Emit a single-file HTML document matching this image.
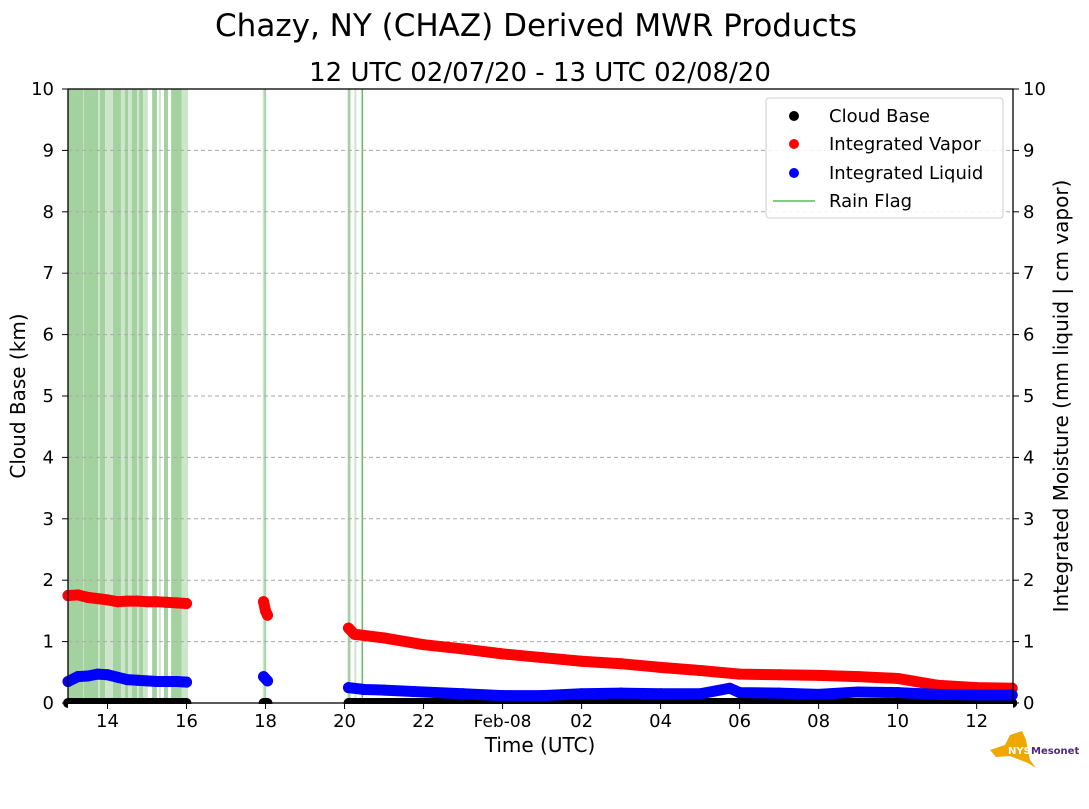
<!DOCTYPE html>
<html><head><meta charset="utf-8"><style>
body{margin:0;background:#fff;font-family:"Liberation Sans","DejaVu Sans",sans-serif}
svg text{font-family:"DejaVu Sans","Liberation Sans",sans-serif}
</style></head><body>
<svg id="chart" width="1089" height="804" xmlns="http://www.w3.org/2000/svg">
<text x="536" y="36" font-size="31" text-anchor="middle">Chazy, NY (CHAZ) Derived MWR Products</text>
<text x="540" y="81" font-size="26" text-anchor="middle">12 UTC 02/07/20 - 13 UTC 02/08/20</text>
<g id="bands"></g>
<g id="grid"></g>
<g id="series"></g>
<rect x="68" y="89" width="945" height="614" fill="none" stroke="#000" stroke-width="1.3"/>
<g id="axes"></g>
<text x="540" y="752" font-size="20" text-anchor="middle">Time (UTC)</text>
<text transform="translate(25,396) rotate(-90)" font-size="20" text-anchor="middle">Cloud Base (km)</text>
<text transform="translate(1068,396) rotate(-90)" font-size="20" text-anchor="middle">Integrated Moisture (mm liquid | cm vapor)</text>
<g>
<rect x="766" y="98" width="237" height="120" rx="3" fill="#fff" fill-opacity="0.85" stroke="#ccc"/>
<circle cx="794" cy="116" r="5" fill="#000"/><text x="829" y="122" font-size="18">Cloud Base</text>
<circle cx="794" cy="144" r="5" fill="red"/><text x="829" y="150" font-size="18">Integrated Vapor</text>
<circle cx="794" cy="173" r="5" fill="blue"/><text x="829" y="179" font-size="18">Integrated Liquid</text>
<line x1="773" y1="201" x2="815" y2="201" stroke="#5cb85c" stroke-width="1.5"/><text x="829" y="207" font-size="18">Rain Flag</text>
</g>
<g>
<path d="M990 750 L1005 745 L1010 735 L1022 731 L1026 740 L1030 760 L1036 768 L1028 763 L1010 756 L996 757 Z" fill="#f0a800"/>
<text x="1008" y="754" font-size="10" font-weight="bold" fill="#fff">NYS</text>
<text x="1031" y="754" font-size="10" font-weight="bold" fill="#4b2a7b">Mesonet</text>
</g>
</svg>
<script>
const rainStart=[13.0,13.38,13.40,13.76,13.81,13.94,14.14,14.34,14.44,14.52,14.62,14.75,14.80,14.90,15.13,15.30,15.43,15.61,15.88,17.93,17.97,20.08,20.25,20.43];
const rainEnd=[13.38,13.40,13.76,13.81,13.94,14.14,14.34,14.44,14.52,14.62,14.75,14.80,14.90,15.02,15.25,15.35,15.53,15.88,16.04,18.02,18.0,20.15,20.3,20.47];
const rainLevel=[2,1,2,1,2,1,2,1,2,1,2,1,2,1,2,1,2,2,1,1,2,2,1,3];
const vapT1=[13,13.25,13.5,13.75,14,14.25,14.5,14.75,15,15.25,15.5,15.75,16];
const vapV1=[1.75,1.76,1.72,1.70,1.68,1.65,1.66,1.66,1.65,1.65,1.64,1.63,1.62];
const vapT2=[17.95,18.0,18.05];
const vapV2=[1.65,1.5,1.43];
const vapT3=[20.1,20.25,21,22,23,24,25,26,27,28,29,30,31,32,33,34,35,36,36.9];
const vapV3=[1.22,1.12,1.06,0.95,0.88,0.80,0.74,0.68,0.64,0.58,0.53,0.47,0.46,0.45,0.43,0.40,0.29,0.25,0.24];
const liqT1=vapT1;
const liqV1=[0.35,0.43,0.44,0.47,0.46,0.42,0.38,0.37,0.36,0.35,0.35,0.35,0.34];
const liqT2=[17.95,18.05];
const liqV2=[0.43,0.36];
const liqT3=[20.1,20.5,21,22,23,24,25,26,27,28,29,29.75,30,31,32,33,34,35,36,36.9];
const liqV3=[0.25,0.22,0.21,0.18,0.15,0.12,0.12,0.15,0.16,0.15,0.15,0.24,0.17,0.16,0.14,0.18,0.17,0.14,0.13,0.13];
const cloudStart=[13,17.95,20.1];
const cloudEnd=[16,18.05,36.9];
const xTickHours=[14,16,18,20,22,24,26,28,30,32,34,36];
const xTickLabels=["14","16","18","20","22","Feb-08","02","04","06","08","10","12"];
const yTicks=[0,1,2,3,4,5,6,7,8,9,10];

const NS="http://www.w3.org/2000/svg";
const X0=68,X1=1013,Y0=703,Y1=89,T0=13,T1=36.92;
const xs=t=>X0+(t-T0)/(T1-T0)*(X1-X0);
const ys=v=>Y0-v/10*(Y0-Y1);
function mk(tag,attrs,parent){const e=document.createElementNS(NS,tag);for(const k in attrs)e.setAttribute(k,attrs[k]);parent.appendChild(e);return e;}
const bands=document.getElementById('bands'),grid=document.getElementById('grid'),ser=document.getElementById('series'),axes=document.getElementById('axes');
const bandCol=["","#cde6cb","#a3d1a0","#6cbb6a"];
rainStart.forEach((s,i)=>{const r=mk('rect',{x:xs(s),y:Y1,width:Math.max(1.5,xs(rainEnd[i])-xs(s)),height:Y0-Y1,fill:bandCol[rainLevel[i]]},bands);

});
yTicks.forEach(v=>{if(v>0&&v<10){const l=mk('line',{x1:X0,x2:X1,y1:ys(v),y2:ys(v),stroke:'#aaa','stroke-dasharray':'4,3'},grid);

}
[[X0,-6,'end',X0-14],[X1,6,'start',X1+10]].forEach(([x,d,a,tx])=>{mk('line',{x1:x,x2:x+d,y1:ys(v),y2:ys(v),stroke:'#000'},axes);
const t=mk('text',{x:tx,y:ys(v)+6,'font-size':18,'text-anchor':a},axes);t.textContent=v;

});});
xTickHours.forEach((h,i)=>{mk('line',{x1:xs(h),x2:xs(h),y1:Y0,y2:Y0+6,stroke:'#000'},axes);
const t=mk('text',{x:xs(h),y:727,'font-size':i==5?17:18,'text-anchor':'middle'},axes);t.textContent=xTickLabels[i];

});
function series(T,V,col,name){const pts=T.map((t,i)=>xs(t)+','+ys(V[i])).join(' ');
const p=mk('polyline',{points:pts,fill:'none',stroke:col,'stroke-width':11,'stroke-linecap':'round','stroke-linejoin':'round'},ser);


T.forEach((t,i)=>{const c=mk('circle',{cx:xs(t),cy:ys(V[i]),r:5.5,fill:col},ser);

});}
cloudStart.forEach((s,i)=>{const l=mk('line',{x1:xs(s),x2:xs(cloudEnd[i]),y1:ys(0),y2:ys(0),stroke:'#000','stroke-width':10,'stroke-linecap':'round'},ser);

});
series(vapT1,vapV1,'red','vapor');series(vapT2,vapV2,'red','vapor');series(vapT3,vapV3,'red','vapor');
series(liqT1,liqV1,'blue','liquid');series(liqT2,liqV2,'blue','liquid');series(liqT3,liqV3,'blue','liquid');
mk('rect',{x:X0,y:Y0+1,width:X1-X0,height:10,fill:'#fff'},ser);
</script>
</body></html>
